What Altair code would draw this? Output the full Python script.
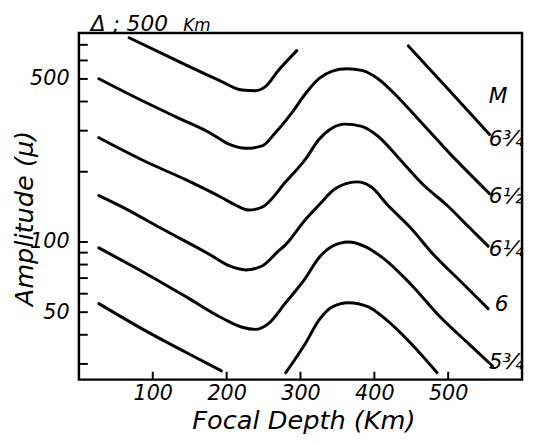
import altair as alt
import pandas as pd

FONT = "DejaVu Sans"

# ---- curves (focal depth km, amplitude micron) ----
m675a_km = [68, 132, 190, 221, 239, 252, 270, 295]
m675a_amp = [751, 600, 493, 448, 445, 462, 543, 661]
m675b_km = [446, 501, 556]
m675b_amp = [693, 448, 289]

m650_km = [27, 88, 132, 177, 204, 226, 248, 266, 288, 307, 325, 343, 363, 383, 405, 427, 458, 503, 556]
m650_amp = [501, 400, 343, 294, 262, 252, 258, 294, 357, 433, 501, 540, 553, 544, 501, 433, 340, 238, 161]

m625_km = [27, 88, 146, 195, 212, 230, 248, 280, 307, 325, 343, 360, 383, 405, 432, 467, 498, 529, 554]
m625_amp = [280, 223, 184, 154, 144, 137, 141, 181, 227, 275, 308, 320, 313, 284, 231, 175, 144, 115, 96]

m600_km = [27, 61, 110, 177, 204, 226, 248, 270, 280, 306, 325, 347, 376, 396, 418, 449, 480, 516, 554]
m600_amp = [158, 140, 115, 88.4, 78.9, 75.9, 78.9, 91.3, 97.4, 124, 144, 169, 181, 172, 144, 115, 88.4, 68.2, 51.8]

m575_km = [27, 88, 146, 195, 221, 239, 257, 279, 306, 325, 343, 365, 387, 414, 449, 489, 529, 560]
m575_amp = [94.3, 74.0, 58.0, 47.0, 43.1, 42.2, 44.8, 54.4, 69.4, 85.6, 95.8, 100, 95.8, 84.2, 66.1, 47.8, 36.3, 29.4]

m550a_km = [27, 88, 146, 193]
m550a_amp = [54.4, 42.0, 33.5, 28.0]
m550b_km = [280, 307, 325, 343, 365, 392, 414, 449, 485]
m550b_amp = [27.5, 36.9, 46.2, 52.7, 54.9, 52.7, 47.0, 36.9, 27.5]

# ---- curve labels ----
lab_text = ["M", "6¾", "6½", "6¼", "6", "5¾"]
lab_km = [555, 555, 555, 555, 563, 555]
lab_amp = [422, 277, 157, 92.8, 54.4, 30.5]

# ---- ticks ----
x_tick_vals = [100, 200, 300, 400, 500]
y_tick_vals = [30, 40, 50, 60, 70, 80, 90, 100, 200, 300, 400, 500, 600, 700]
y_label_vals = [50, 100, 500]

# ---- heading texts ----
head_text = ["Δ ; 500", "Km"]

segments = [
    ("6.75a", m675a_km, m675a_amp),
    ("6.75b", m675b_km, m675b_amp),
    ("6.5", m650_km, m650_amp),
    ("6.25", m625_km, m625_amp),
    ("6", m600_km, m600_amp),
    ("5.75", m575_km, m575_amp),
    ("5.5a", m550a_km, m550a_amp),
    ("5.5b", m550b_km, m550b_amp),
]
rows = []
for name, ks, amps in segments:
    for i, (k, a) in enumerate(zip(ks, amps)):
        rows.append({"seg": name, "i": i, "km": k, "amp": a})
curves = pd.DataFrame(rows)
labels_df = pd.DataFrame({"t": lab_text, "km": lab_km, "amp": lab_amp})
xt_df = pd.DataFrame({"km": x_tick_vals})
yt_df = pd.DataFrame({"amp": y_tick_vals})

W, H = 450, 352
x_scale = alt.Scale(domain=[0, 600], nice=False, zero=False)
y_scale = alt.Scale(type="log", domain=[25.7, 787], nice=False)

x_axis = alt.Axis(
    values=x_tick_vals, ticks=False, domain=False, grid=False,
    labelFont=FONT, labelFontSize=21, labelFontStyle="italic", labelColor="black",
    labelPadding=3, title="Focal Depth (Km)", titleFont=FONT, titleFontSize=26,
    titleFontStyle="italic", titleFontWeight="normal", titleColor="black",
    titleX=228, titleY=50, titleBaseline="alphabetic", titleAlign="center",
)
y_axis = alt.Axis(
    values=y_label_vals, format="d", ticks=False, domain=False, grid=False,
    labelFont=FONT, labelFontSize=21, labelFontStyle="italic", labelColor="black",
    labelPadding=10, title="Amplitude (μ)", titleFont=FONT, titleFontSize=26,
    titleFontStyle="italic", titleFontWeight="normal", titleColor="black",
    titleX=-47, titleY=188, titleBaseline="alphabetic", titleAngle=270, titleAlign="center",
)

X = alt.X("km:Q", scale=x_scale, axis=x_axis)
Y = alt.Y("amp:Q", scale=y_scale, axis=y_axis)

lines = alt.Chart(curves).mark_line(
    color="black", strokeWidth=3, interpolate="monotone", strokeCap="round"
).encode(x=X, y=Y, detail="seg:N", order="i:O")

labels = alt.Chart(labels_df).mark_text(
    align="left", baseline="middle", fontSize=22, fontStyle="italic", font=FONT, color="black"
).encode(x=X, y=Y, text="t:N")

xticks = alt.Chart(xt_df).mark_rule(color="black", strokeWidth=2).encode(
    x=X, y=alt.value(H), y2=alt.value(H - 8)
)

yticks = alt.Chart(yt_df).mark_rule(color="black", strokeWidth=2).encode(
    y=Y, x=alt.value(0), x2=alt.value(9)
)

head1 = alt.Chart(pd.DataFrame({"t": [head_text[0]]})).mark_text(
    align="left", baseline="alphabetic", fontSize=22, fontStyle="italic", font=FONT, color="black"
).encode(x=alt.value(12), y=alt.value(-2), text="t:N")

head2 = alt.Chart(pd.DataFrame({"t": [head_text[1]]})).mark_text(
    align="left", baseline="alphabetic", fontSize=17, fontStyle="italic", font=FONT, color="black"
).encode(x=alt.value(106), y=alt.value(-2), text="t:N")

chart = alt.layer(lines, labels, xticks, yticks, head1, head2).properties(
    width=W,
    height=H,
    padding={"left": 72, "top": 22, "right": 3, "bottom": 60},
    autosize=alt.AutoSizeParams(type="none"),
    background="white",
).configure_view(stroke="black", strokeWidth=2.5)

chart.save("out.html", embed_options={"renderer": "svg", "actions": False})
